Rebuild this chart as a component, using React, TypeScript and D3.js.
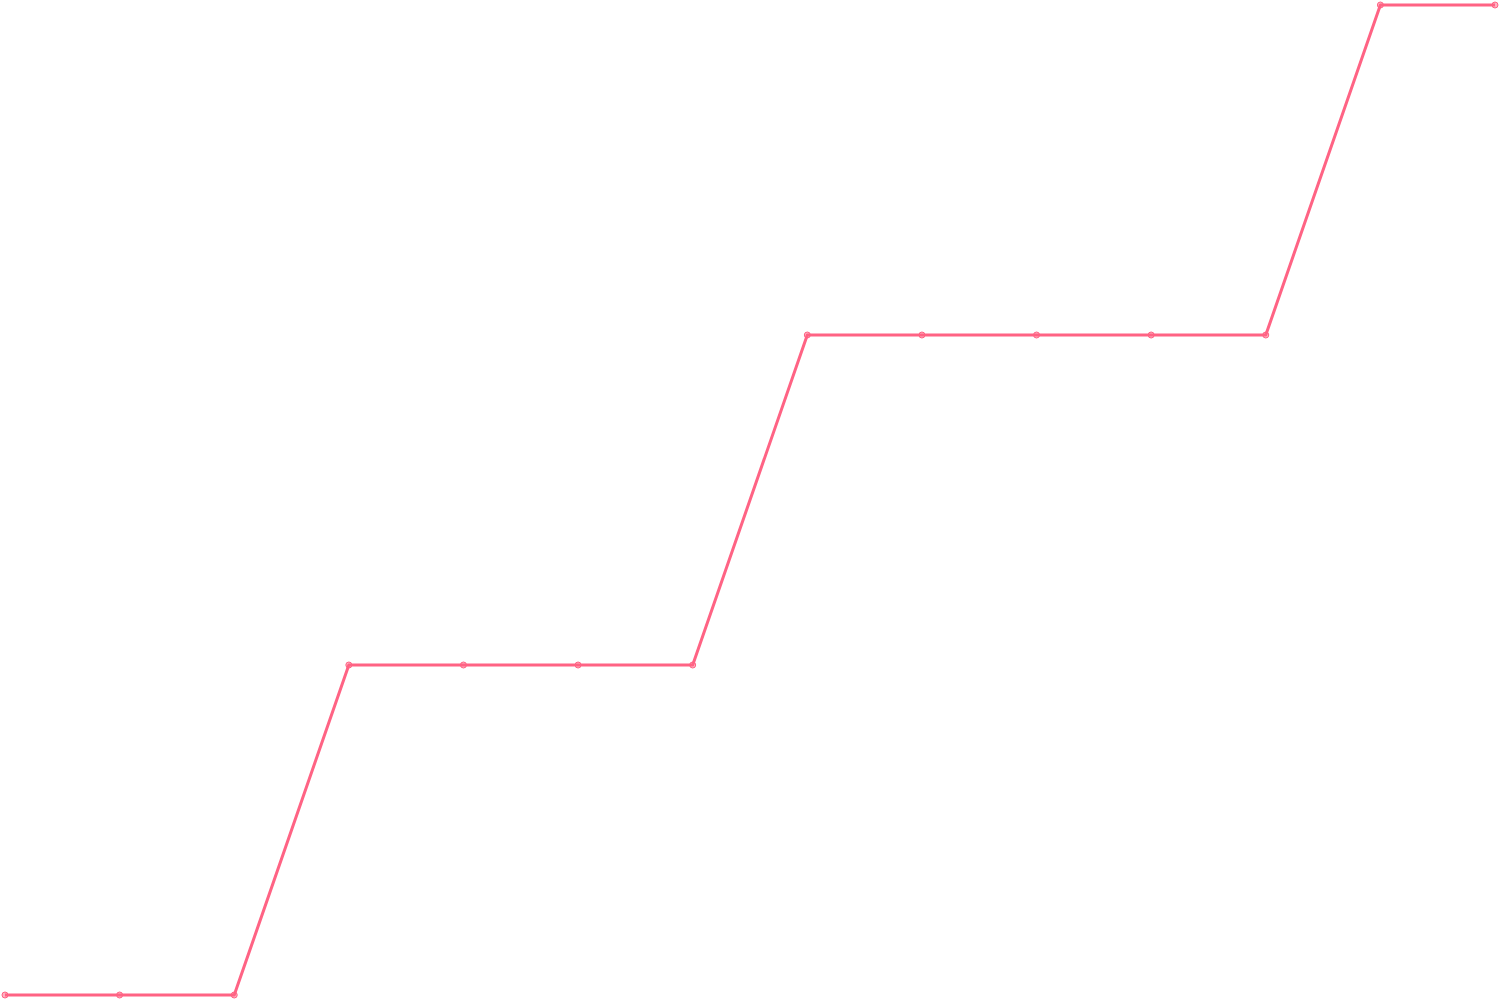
import React from 'react'
import * as d3 from 'd3'

const labels = ['1', '2', '3', '4', '5', '6', '7', '8', '9', '10', '11', '12', '13', '14']
const values = [0, 0, 0, 1, 1, 1, 1, 2, 2, 2, 2, 2, 3, 3]

const W = 1500
const H = 1000
const pad = 5

export default () => {
  const x = d3
    .scalePoint()
    .domain(labels)
    .range([pad, W - pad])

  const y = d3
    .scaleLinear()
    .domain([0, 3])
    .range([H - pad, pad])

  const line = d3
    .line<number>()
    .x((_, i) => x(labels[i]) as number)
    .y(d => y(d))

  return (
    <svg
      width={W}
      height={H}
      style={{ position: 'absolute', left: 0, top: 0, background: '#fff' }}
    >
      <path d={line(values) as string} fill="none" stroke="#ff6384" strokeWidth={3} strokeLinejoin="round" />
      {values.map((v, i) => (
        <circle
          key={i}
          cx={x(labels[i])}
          cy={y(v)}
          r={3}
          fill="rgba(255,99,132,0.5)"
          stroke="#ff6384"
          strokeWidth={1}
        />
      ))}
    </svg>
  )
}
